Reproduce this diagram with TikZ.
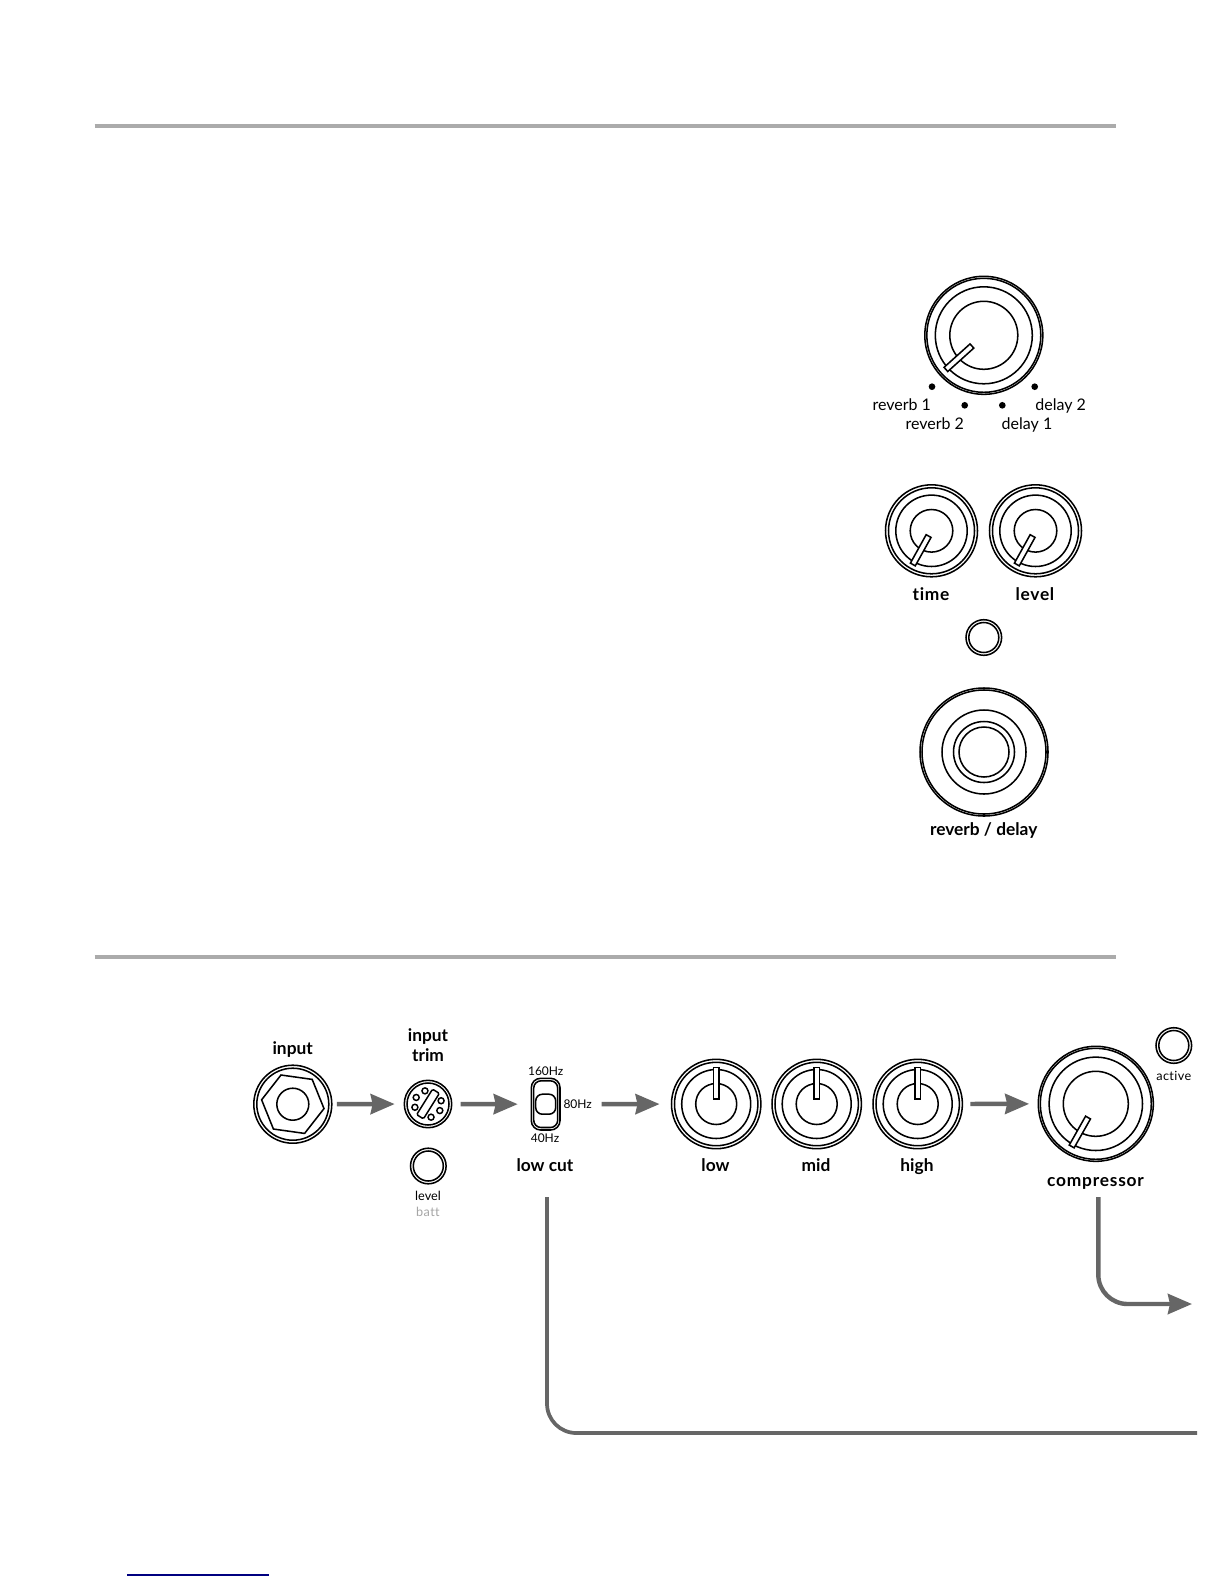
\documentclass[tikz,border=0pt]{standalone}
\usepackage{fontspec}
\setmainfont[Ligatures=NoCommon]{Lato}
\usetikzlibrary{arrows.meta,positioning}

\definecolor{signal}{gray}{0.4}
\definecolor{rulegray}{gray}{0.67}
\definecolor{battgray}{gray}{0.65}
\definecolor{linkblue}{rgb}{0,0,0.5}

\tikzset{
  ctlfont/.style={font=\fontsize{13}{15}\selectfont\bfseries},
  ctl/.style={ctlfont,text height=9.5pt,text depth=0pt},
  small/.style={font=\fontsize{12}{14}\selectfont,text height=9pt,text depth=0pt},
  tiny/.style={font=\fontsize{9.5}{11}\selectfont},
  hz/.style={font=\fontsize{9}{11}\selectfont},
  ring/.style={line width=1.15pt},
  sig/.style={draw=signal,line width=3.3pt,-{Stealth[length=18pt,width=15pt,inset=1.5pt]}},
  feed/.style={draw=signal,line width=2.8pt,rounded corners=22pt},
  hairline/.style={draw=rulegray,line width=2.3pt},
  posdot/.style={circle,fill=black,inner sep=0pt,minimum size=5pt}
}

% name, x, y, outer, middle, inner, pointer from, pointer to, angle
\def\knobgap{2}
\newcommand{\knob}[9]{
\coordinate (#1) at (#2,#3);
\draw [ring] (#1) circle (#4);
\draw [ring] (#1) circle (#4-\knobgap);
\draw [ring] (#1) circle (#5);
\draw [ring] (#1) circle (#6);
\draw [ring,fill=white,shift={(#1)},rotate=#9] (#7,-2.8) rectangle (#8,2.8);
}
% name, x, y
\newcommand{\lamp}[3]{
\coordinate (#1) at (#2,#3);
\draw [ring] (#1) circle (17.8);
\draw [ring] (#1) circle (15);
}

\begin{document}
\begin{tikzpicture}[x=0.75pt,y=-0.75pt]
\useasboundingbox (0,0) rectangle (1224,1584);
\fill [white] (0,0) rectangle (1224,1584);

\coordinate (ruleaw) at (94.5,126);
\coordinate (ruleae) at (1116,126);
\coordinate (rulebw) at (94.5,957);
\coordinate (rulebe) at (1116,957);
\draw [hairline] (ruleaw) -- (ruleae);
\draw [hairline] (rulebw) -- (rulebe);

% reverb section
\knob{mode}{983.8}{335.3}{59}{48.5}{34}{16}{51}{222}
\node [posdot] (dotrone) at (932,386.7) {};
\node [posdot] (dotrtwo) at (964.7,405.3) {};
\node [posdot] (dotdone) at (1002.3,405.3) {};
\node [posdot] (dotdtwo) at (1034.7,386.7) {};
\node [small] (lrone) at (901.7,404) {reverb 1};
\node [small] (lrtwo) at (934.8,423) {reverb 2};
\node [small] (ldone) at (1027,423) {delay 1};
\node [small] (ldtwo) at (1060.7,404) {delay 2};

\def\knobgap{3}
\knob{time}{931.5}{530.8}{46}{35.7}{21.3}{6}{38.5}{241}
\knob{level}{1035.5}{530.8}{46}{35.7}{21.3}{6}{38.5}{241}
\node [ctl] (ltime) at (931,594) {\addfontfeature{LetterSpace=4}time};
\node [ctl] (llevel) at (1035,594) {\addfontfeature{LetterSpace=4}level};
\lamp{fxlamp}{983.8}{637.5}

\coordinate (fx) at (984,752);
\draw [ring] (fx) circle (64);
\draw [ring] (fx) circle (62);
\draw [ring] (fx) circle (42);
\draw [ring] (fx) circle (30.5);
\draw [ring] (fx) circle (25);
\node [ctl] (lfx) at (983.7,829) {reverb / delay};

% input section
\coordinate (jack) at (292.8,1104.2);
\draw [ring] (jack) circle (39);
\draw [ring] (jack) circle (36);
\draw [ring] (jack) circle (16);
\draw [ring,shift={(jack)}] (8:31.5) -- (68:31.5) -- (128:31.5) -- (188:31.5) -- (248:31.5) -- (308:31.5) -- cycle;
\node [ctl] (ljack) at (292.7,1048) {input};

\coordinate (trim) at (428,1104);
\draw [ring] (trim) circle (23.7);
\draw [ring] (trim) circle (21);
\foreach \a in {257,209,166,77,29,-14}
  \draw [line width=1.1pt,shift={(trim)}] (\a:13.5) circle (3);
\draw [line width=1.1pt,shift={(trim)},rotate=58,rounded corners=1pt] (-15,-4) rectangle (15,4);
\node [ctlfont,align=center] (ltrim) at (428,1045) {input\\trim};

\lamp{battlamp}{428.3}{1166}
\node [tiny] (lbl) at (428,1195.7) {level};
\node [tiny,text=battgray] (lbatt) at (428,1212) {\addfontfeature{LetterSpace=3}batt};

\coordinate (cut) at (545.7,1104.2);
\draw [ring,rounded corners=7pt] (531.3,1078.3) rectangle (560,1130);
\draw [ring,rounded corners=5.5pt] (533.7,1080.8) rectangle (557.7,1127.5);
\draw [ring,rounded corners=5pt] (535.7,1094.2) rectangle (555.7,1114.2);
\node [hz] (lhigh) at (545.7,1070.7) {160Hz};
\node [hz] (lmid) at (577.7,1104) {80Hz};
\node [hz] (llow) at (545,1138) {40Hz};
\node [ctl] (lcut) at (545,1165) {low cut};

% tone section
\knob{low}{716.2}{1104}{44.7}{34.5}{20.5}{5}{36.7}{90}
\knob{mid}{816.7}{1104}{44.7}{34.5}{20.5}{5}{36.7}{90}
\knob{high}{917.7}{1104}{44.7}{34.5}{20.5}{5}{36.7}{90}
\node [ctl] (llo) at (715.5,1165) {low};
\node [ctl] (lmi) at (816,1165) {mid};
\node [ctl] (lhi) at (917,1165) {high};

\def\knobgap{2}
\knob{comp}{1095.8}{1103.8}{57.5}{46.7}{32.5}{15.8}{49}{240.5}
\node [ctl] (lcomp) at (1095.5,1180) {\addfontfeature{LetterSpace=4.5}compressor};
\lamp{complamp}{1173.8}{1045.5}
\node [tiny] (lactive) at (1173.8,1076) {\addfontfeature{LetterSpace=3}active};

\draw [sig,shorten <=33pt,shorten >=25pt] (jack) -- (trim);
\draw [sig,shorten <=24.5pt,shorten >=21pt] (trim) -- (cut);
\draw [sig,shorten <=42pt,shorten >=42.5pt] (cut) -- (low);
\draw [sig,shorten <=39.5pt,shorten >=50pt] (high) -- (comp);

\coordinate (compout) at (1098.3,1197);
\coordinate (compend) at (1192,1304);
\coordinate (feedout) at (547,1197);
\coordinate (feedend) at (1197,1433);
\draw [sig,rounded corners=22pt] (compout) |- (compend);
\draw [feed] (feedout) |- (feedend);

\coordinate (linkw) at (127,1575);
\coordinate (linke) at (269,1575);
\draw [linkblue,line width=1pt] (linkw) -- (linke);
\end{tikzpicture}
\end{document}
